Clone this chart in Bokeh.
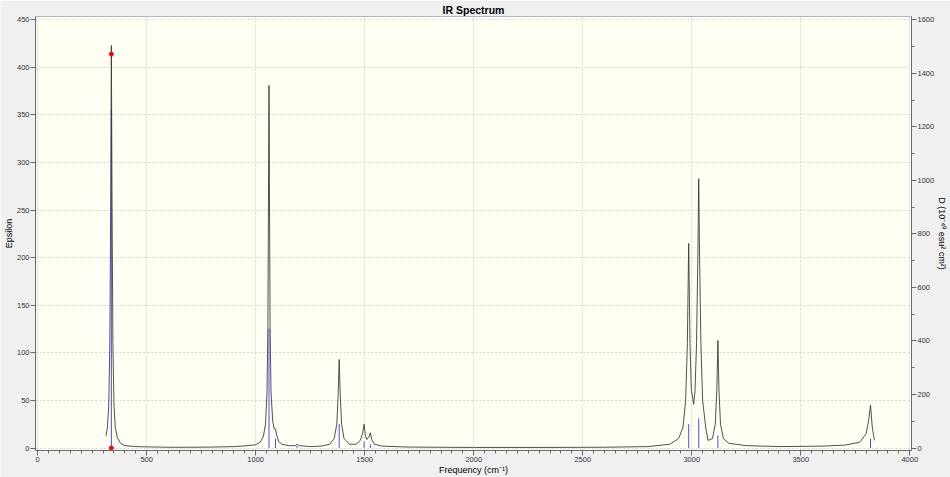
from bokeh.plotting import figure
from bokeh.models import Range1d, LinearAxis, SingleIntervalTicker
from bokeh.embed import file_html
from bokeh.resources import INLINE

# Stick spectrum: frequency (cm^-1) and dipole strength D (10^-40 esu^2 cm^2)
stick_freq = [338, 1061, 1091, 1190, 1383, 1497, 1526, 2986, 3032, 3120, 3820]
stick_d = [1267, 446, 35, 8, 90, 24, 14, 89, 111, 47, 35]

# Broadened spectrum (Epsilon)
curve_x = [314, 320, 326, 331, 335, 338, 341, 345, 350, 356, 365, 380, 400, 450,
           500, 600, 700, 800, 900, 950, 1000, 1020, 1035, 1045, 1052, 1056, 1061,
           1066, 1070, 1078, 1085, 1091, 1096, 1105, 1120, 1150, 1180, 1190, 1200,
           1250, 1300, 1340, 1360, 1372, 1378, 1383, 1388, 1394, 1405, 1430, 1460,
           1480, 1490, 1497, 1503, 1510, 1520, 1526, 1532, 1545, 1580, 1700, 2000,
           2300, 2600, 2800, 2900, 2940, 2960, 2972, 2980, 2986, 2992, 2998, 3009,
           3015, 3022, 3028, 3032, 3036, 3042, 3050, 3065, 3075, 3095, 3108, 3115,
           3120, 3125, 3132, 3145, 3170, 3250, 3400, 3600, 3700, 3770, 3800, 3812,
           3820, 3828, 3838]
curve_y = [13, 22, 45, 110, 260, 423, 260, 110, 45, 22, 11, 5, 2.5, 1.5,
           1.2, 0.8, 0.8, 1.0, 1.5, 2.2, 3.5, 6, 12, 25, 60, 130, 381,
           130, 60, 28, 20, 20, 14, 7, 4, 2.5, 2.5, 4, 2.5,
           1.5, 2, 4, 10, 25, 55, 93, 55, 25, 10, 4, 4,
           8, 15, 25, 13, 9, 12, 16, 9, 4, 2, 1, 0.6,
           0.6, 0.8, 1.5, 4, 10, 22, 50, 110, 215, 110, 62, 46,
           60, 110, 200, 283, 200, 110, 50, 20, 8, 10, 25, 60,
           113, 60, 25, 10, 5, 2.5, 1.5, 2, 3, 6, 15, 30,
           45, 22, 8]

# Selected-mode markers
marker_x = [338, 338]
marker_y = [414, 0]

x_ticks_interval = 500
eps_ticks_interval = 50
d_ticks_interval = 200

p = figure(width=950, height=477, output_backend="svg", toolbar_location=None,
           x_range=Range1d(-10, 4008), y_range=Range1d(-2.6, 453.5),
           title="IR Spectrum", min_border_left=0, min_border_right=0,
           min_border_top=0, min_border_bottom=0)
p.extra_y_ranges = {"D": Range1d(-2.6 * 1600 / 450, 453.5 * 1600 / 450)}

p.background_fill_color = "#fffff4"
p.border_fill_color = "#f0f0f0"
p.outline_line_color = "#b4b7bb"

font = "Liberation Sans"

p.title.align = "center"
p.title.text_font = font
p.title.text_font_size = "10.5px"
p.title.text_font_style = "bold"
p.title.text_color = "#000000"
p.title.standoff = 2
p.title.offset = 0

# x axis
xa = p.xaxis[0]
xa.ticker = SingleIntervalTicker(interval=x_ticks_interval, num_minor_ticks=10)
xa.axis_label = "Frequency (cm⁻¹)"

# left axis
ya = p.yaxis[0]
ya.ticker = SingleIntervalTicker(interval=eps_ticks_interval, num_minor_ticks=0)
ya.axis_label = "Epsilon"

# right axis
ra = LinearAxis(y_range_name="D", axis_label="D (10⁻⁴⁰ esu² cm²)",
                ticker=SingleIntervalTicker(interval=d_ticks_interval, num_minor_ticks=2))
p.add_layout(ra, "right")

for ax in [xa, ya, ra]:
    ax.axis_line_color = "#6a6a6a"
    ax.major_tick_line_color = "#6a6a6a"
    ax.minor_tick_line_color = "#6a6a6a"
    ax.major_tick_out = 5
    ax.major_tick_in = 0
    ax.minor_tick_out = 3
    ax.minor_tick_in = 0
    ax.major_label_text_font = font
    ax.major_label_text_font_size = "7.5px"
    ax.major_label_text_color = "#333333"
    ax.major_label_standoff = 1
    ax.axis_label_text_font = font
    ax.axis_label_text_font_size = "9px"
    ax.axis_label_text_font_style = "normal"
    ax.axis_label_text_color = "#000000"
    ax.axis_label_standoff = 0

p.xgrid.ticker = xa.ticker
p.ygrid.ticker = ya.ticker
for g in [p.xgrid[0], p.ygrid[0]]:
    g.grid_line_color = "#d4d4d4"
    g.grid_line_dash = "2 2"
    g.grid_line_width = 1

# sticks
p.segment(x0=stick_freq, y0=[0] * len(stick_freq), x1=stick_freq, y1=stick_d,
          y_range_name="D", line_color="#4a4aff", line_width=1)
# spectrum
p.line(curve_x, curve_y, line_color="#333333", line_width=1, line_alpha=0.85)
# markers
p.scatter(marker_x, marker_y, size=4, color="red", marker="circle")

open("out.html", "w").write(file_html(p, INLINE))
